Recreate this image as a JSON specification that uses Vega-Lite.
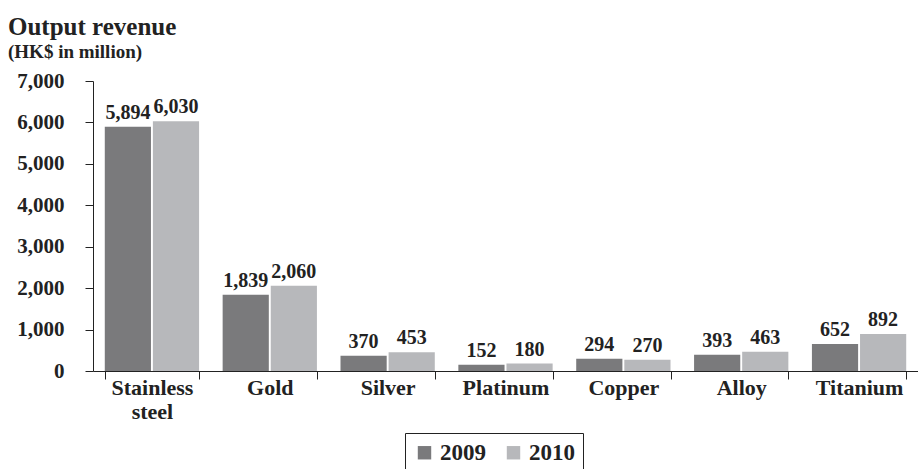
{
  "$schema": "https://vega.github.io/schema/vega-lite/v6.json",
  "width": 825,
  "height": 290,
  "autosize": {"type": "none"},
  "padding": {"left": 93, "top": 81, "right": 0, "bottom": 98},
  "background": "white",
  "config": {
    "view": {"stroke": null},
    "font": "Liberation Serif",
    "axis": {"grid": false, "domainColor": "#222", "tickColor": "#222", "labelColor": "#222", "labelFont": "Liberation Serif", "labelFontWeight": "bold"}
  },
  "title": {
    "text": "Output revenue",
    "subtitle": "(HK$ in million)",
    "anchor": "start",
    "frame": "group",
    "dx": -85,
    "offset": 8,
    "font": "Liberation Serif",
    "fontSize": 25,
    "fontWeight": "bold",
    "color": "#222",
    "subtitleFont": "Liberation Serif",
    "subtitleFontSize": 19,
    "subtitleFontWeight": "bold",
    "subtitleColor": "#222",
    "subtitlePadding": 3
  },
  "data": {
    "values": [
      {"metal": "Stainless steel", "year": "2009", "value": 5894},
      {"metal": "Stainless steel", "year": "2010", "value": 6030},
      {"metal": "Gold", "year": "2009", "value": 1839},
      {"metal": "Gold", "year": "2010", "value": 2060},
      {"metal": "Silver", "year": "2009", "value": 370},
      {"metal": "Silver", "year": "2010", "value": 453},
      {"metal": "Platinum", "year": "2009", "value": 152},
      {"metal": "Platinum", "year": "2010", "value": 180},
      {"metal": "Copper", "year": "2009", "value": 294},
      {"metal": "Copper", "year": "2010", "value": 270},
      {"metal": "Alloy", "year": "2009", "value": 393},
      {"metal": "Alloy", "year": "2010", "value": 463},
      {"metal": "Titanium", "year": "2009", "value": 652},
      {"metal": "Titanium", "year": "2010", "value": 892}
    ]
  },
  "encoding": {
    "x": {
      "field": "metal",
      "type": "nominal",
      "sort": null,
      "scale": {"paddingInner": 0.2, "paddingOuter": 0.1},
      "axis": {
        "title": null,
        "labelAngle": 0,
        "labelFontSize": 22,
        "tickBand": "extent",
        "tickSize": 8,
        "labelPadding": -2,
        "labelLineHeight": 24,
        "labelExpr": "datum.label == 'Stainless steel' ? ['Stainless', 'steel'] : datum.label"
      }
    },
    "xOffset": {"field": "year", "type": "nominal", "scale": {"paddingInner": 0.04}},
    "y": {
      "field": "value",
      "type": "quantitative",
      "scale": {"domain": [0, 7000]},
      "axis": {
        "title": null,
        "values": [0, 1000, 2000, 3000, 4000, 5000, 6000, 7000],
        "format": ",.0f",
        "labelOverlap": false,
        "labelFontSize": 21,
        "tickSize": 8,
        "labelPadding": 21
      }
    }
  },
  "layer": [
    {
      "mark": {"type": "bar"},
      "encoding": {
        "color": {
          "field": "year",
          "type": "nominal",
          "scale": {"domain": ["2009", "2010"], "range": ["#7a7a7c", "#b7b8bb"]},
          "legend": {
            "title": null,
            "orient": "none",
            "legendX": 312,
            "legendY": 352,
            "direction": "horizontal",
            "symbolType": "square",
            "symbolSize": 180,
            "symbolStrokeWidth": 0,
            "labelFont": "Liberation Serif",
            "labelFontSize": 23,
            "labelFontWeight": "bold",
            "labelColor": "#222",
            "columnPadding": 16,
            "strokeColor": "#222",
            "padding": 8
          }
        }
      }
    },
    {
      "mark": {"type": "text", "baseline": "bottom", "dy": -4, "fontSize": 20, "fontWeight": "bold", "font": "Liberation Serif", "color": "#222"},
      "encoding": {
        "text": {"field": "value", "type": "quantitative", "format": ","}
      }
    }
  ]
}
